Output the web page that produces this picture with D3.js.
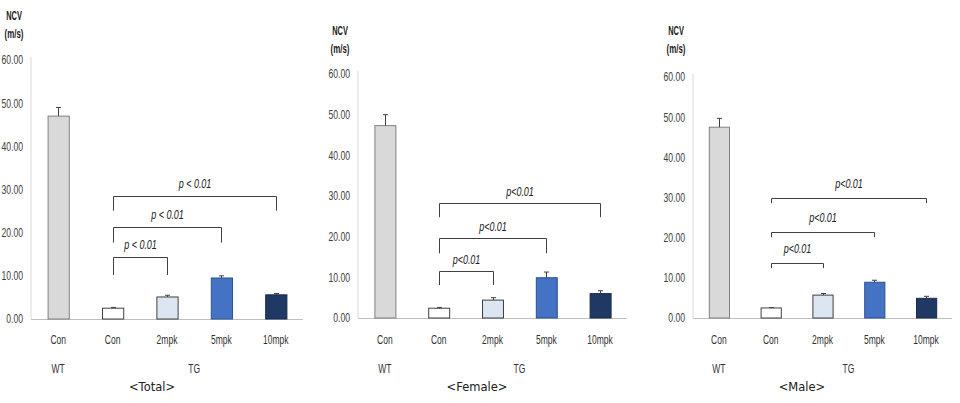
<!DOCTYPE html>
<html><head><meta charset="utf-8">
<script src="https://cdn.jsdelivr.net/npm/d3@7/dist/d3.min.js"></script>
<style>
html,body{margin:0;padding:0;background:#fff;}
svg{display:block;}
</style>
</head><body>
<svg id="chart" width="960" height="403"></svg>
<script>
// ---- data ----
const categories = ["Con", "Con", "2mpk", "5mpk", "10mpk"];
const groups = ["WT", "TG"];
const yTicks = [0, 10, 20, 30, 40, 50, 60];
const panelTitles = ["<Total>", "<Female>", "<Male>"];

const totalValues  = [47.0, 2.5, 5.1, 9.5, 5.6];
const totalErrors  = [2.0, 0.2, 0.4, 0.5, 0.3];
const femaleValues = [47.3, 2.4, 4.4, 9.9, 6.0];
const femaleErrors = [2.7, 0.2, 0.6, 1.4, 0.7];
const maleValues   = [47.5, 2.5, 5.7, 8.9, 4.9];
const maleErrors   = [2.2, 0.1, 0.4, 0.5, 0.5];

// brackets: [fromIndex, toIndex, topValue, legValue, label]
const totalBrackets  = [[1, 4, 28.6, 25.1, "p < 0.01"], [1, 3, 21.2, 17.7, "p < 0.01"], [1, 2, 14.4, 10.2, "p < 0.01"]];
const femaleBrackets = [[1, 4, 28.2, 24.8, "p<0.01"], [1, 3, 19.6, 15.9, "p<0.01"], [1, 2, 11.5, 8.1, "p<0.01"]];
const maleBrackets   = [[1, 4, 29.9, 28.6, "p<0.01"], [1, 3, 21.5, 20.1, "p<0.01"], [1, 2, 13.7, 12.4, "p<0.01"]];

const barColors  = ["#d9d9d9", "#ffffff", "#dce6f2", "#4472c4", "#1f3864"];
const barStrokes = ["#808080", "#404040", "#404040", "#2f528f", "#1a2a4a"];

// ---- layout ----
const FONT = "'Liberation Sans', Arial, sans-serif";
const SX = 0.72; // horizontal condense factor
const panels = [
  {values: totalValues,  errors: totalErrors,  brackets: totalBrackets,  title: panelTitles[0],
   x0: 31, x1: 303, yZero: 319, yTop: 60, ncvX: 14, ncvY: 15, titleX: 152, lblOff: 9},
  {values: femaleValues, errors: femaleErrors, brackets: femaleBrackets, title: panelTitles[1],
   x0: 358, x1: 627, yZero: 318, yTop: 74, ncvX: 340, ncvY: 30, titleX: 477, lblOff: 8},
  {values: maleValues,   errors: maleErrors,   brackets: maleBrackets,   title: panelTitles[2],
   x0: 693, x1: 952, yZero: 318, yTop: 77, ncvX: 676, ncvY: 30, titleX: 802, lblOff: 11}
];

const svg = d3.select("#chart");

function ctext(g, x, y, str, opts = {}) {
  const s = opts.sx || SX;
  return g.append("text")
    .attr("transform", `translate(${x},${y}) scale(${s},1)`)
    .attr("text-anchor", opts.anchor || "middle")
    .attr("font-family", FONT)
    .attr("font-size", opts.size || 12.5)
    .attr("font-weight", opts.weight || "normal")
    .attr("font-style", opts.style || "normal")
    .attr("fill", opts.fill || "#303030")
    .text(str);
}

panels.forEach(p => {
  const g = svg.append("g");
  const x = d3.scaleBand().domain(d3.range(categories.length)).range([p.x0, p.x1]).paddingInner(0.61).paddingOuter(0.305);
  const y = d3.scaleLinear().domain([0, 60]).range([p.yZero, p.yTop]);

  // y axis
  const yAxis = d3.axisLeft(y).tickValues(yTicks).tickFormat(d3.format(".2f")).tickSize(0).tickPadding(8);
  const ya = g.append("g").attr("transform", `translate(${p.x0},0)`).call(yAxis);
  ya.select(".domain").attr("stroke", "#d9d9d9").attr("d", `M0,${p.yTop - 3}V${p.yZero}`);
  ya.selectAll("text")
    .attr("font-family", FONT).attr("font-size", 12).attr("fill", "#404040")
    .attr("transform", `scale(${SX},1)`).attr("x", -8 / SX);

  // x axis line
  g.append("line").attr("x1", p.x0).attr("x2", p.x1).attr("y1", p.yZero + 0.5).attr("y2", p.yZero + 0.5)
    .attr("stroke", "#bfbfbf").attr("stroke-width", 1);

  // bars
  g.selectAll("rect.bar").data(p.values).join("rect").attr("class", "bar")
    .attr("x", (d, i) => x(i) + 0.5).attr("width", x.bandwidth())
    .attr("y", d => y(d)).attr("height", d => y(0) - y(d))
    .attr("fill", (d, i) => barColors[i]).attr("stroke", (d, i) => barStrokes[i]).attr("stroke-width", 1);

  // error bars
  p.values.forEach((v, i) => {
    const cx = Math.round(x(i) + x.bandwidth() / 2) + 0.5;
    const top = y(v + p.errors[i]);
    g.append("line").attr("x1", cx).attr("x2", cx).attr("y1", y(v)).attr("y2", top).attr("stroke", "#404040");
    g.append("line").attr("x1", cx - 2.5).attr("x2", cx + 2.5).attr("y1", top).attr("y2", top).attr("stroke", "#404040");
  });

  // category labels
  categories.forEach((c, i) => ctext(g, x(i) + x.bandwidth() / 2, 343.5, c, {sx: 0.68}));

  // group labels
  const wtX = x(0) + x.bandwidth() / 2;
  const tgX = (x(1) + x(4) + x.bandwidth()) / 2;
  ctext(g, wtX, 373, groups[0], {sx: 0.68});
  ctext(g, tgX, 373, groups[1], {sx: 0.68});

  // panel title
  g.append("text").attr("x", p.titleX).attr("y", 391).attr("text-anchor", "middle")
    .attr("font-family", "'DejaVu Sans', sans-serif").attr("font-size", 11.5).attr("fill", "#202020").text(p.title);

  // NCV axis title
  ctext(g, p.ncvX, p.ncvY + 4.5, "NCV", {weight: "bold", size: 12, sx: 0.62, fill: "#202020"});
  ctext(g, p.ncvX, p.ncvY + 22.5, "(m/s)", {weight: "bold", size: 12, sx: 0.66, fill: "#202020"});

  // significance brackets
  p.brackets.forEach(b => {
    const xa = Math.round(x(b[0]) + x.bandwidth() / 2) + 0.5;
    const xb = Math.round(x(b[1]) + x.bandwidth() / 2) + 0.5;
    const yt = Math.round(y(b[2])) + 0.5;
    const yl = y(b[3]);
    g.append("path").attr("d", `M${xa},${yl}V${yt}H${xb}V${yl}`).attr("fill", "none")
      .attr("stroke", "#404040").attr("stroke-width", 1);
    ctext(g, (xa + xb) / 2, yt - p.lblOff, b[4], {style: "italic", size: 12.5, sx: 0.72, fill: "#202020"});
  });
});
</script>
</body></html>
